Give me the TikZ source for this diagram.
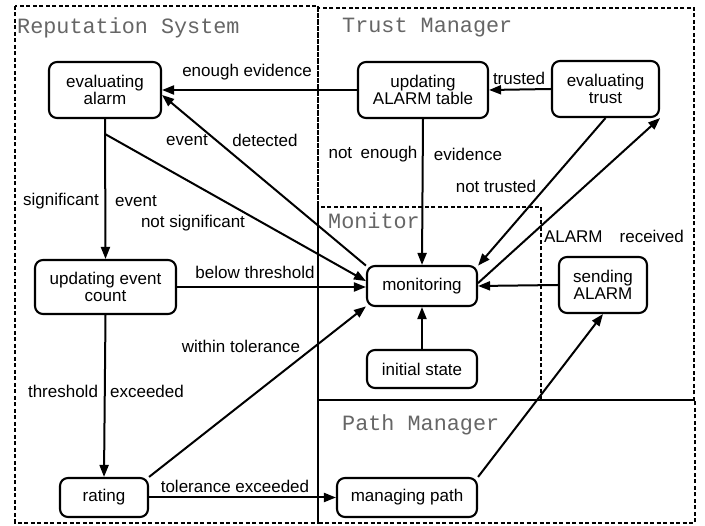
\documentclass[tikz,border=0pt]{standalone}
\usepackage{fontspec}
\setmainfont{Liberation Sans}
\newfontfamily\regionfont{Liberation Mono}
\usetikzlibrary{arrows.meta}
\begin{document}
\begin{tikzpicture}[x=1pt,y=-1pt,
  state/.style={draw, line width=2.1pt, rounded corners=8pt, align=center, inner sep=0pt,
    font=\fontsize{17}{17}\selectfont},
  conn/.style={line width=2pt, -{Triangle[length=12pt,width=9pt]}},
  lbl/.style={font=\fontsize{17}{17}\selectfont, inner sep=0pt},
  region/.style={line width=2.8pt, dash pattern=on 4pt off 2.5pt},
  rtitle/.style={font=\regionfont\fontsize{21.8}{22}\selectfont, text=black!60, inner sep=0pt, anchor=west}]
\useasboundingbox (0,0) rectangle (705,526);
\fill[white] (0,0) rectangle (705,526);
% regions
\draw[region] (15,6) rectangle (318,523);
\draw[region] (318,8) rectangle (694,400);
\draw[region] (318,207) rectangle (541,400);
\draw[region] (318,400) rectangle (695,523);
\node[rtitle] (trep) at (17,28) {Reputation System};
\node[rtitle] (ttrust) at (342,28) {Trust Manager};
\node[rtitle] (tmon) at (328,221) {Monitor};
\node[rtitle] (tpath) at (342,425) {Path Manager};
% states
\node[state, minimum width=112pt, minimum height=56pt] (ealarm) at (105,90) {evaluating\\alarm};
\node[state, minimum width=130pt, minimum height=56pt] (uat) at (423,90) {updating\\ALARM table};
\node[state, minimum width=107pt, minimum height=56pt] (etrust) at (605.5,89) {evaluating\\trust};
\node[state, minimum width=141pt, minimum height=54pt] (uec) at (105.5,287) {updating event\\count};
\node[state, minimum width=110pt, minimum height=40pt] (mon) at (422,286) {monitoring};
\node[state, minimum width=88pt, minimum height=56pt] (send) at (603,285) {sending\\ALARM};
\node[state, minimum width=110pt, minimum height=38pt] (init) at (422,369) {initial state};
\node[state, minimum width=88pt, minimum height=39pt] (rating) at (104,497.5) {rating};
\node[state, minimum width=140pt, minimum height=39pt] (mpath) at (407,497.5) {managing path};
\coordinate (sig) at (105,134);
% connectors
\draw[conn] (uat.west) -- (ealarm.east);
\node[lbl] (l1) at (247,72) {enough evidence};
\draw[conn] (etrust.west) -- (uat.east);
\node[lbl] (l2) at (519,78) {trusted};
\draw[conn] (uat.south) -- (mon.north);
\node[lbl] (l3a) at (373,154) {not\enspace enough};
\node[lbl] (l3b) at (468,154) {evidence};
\draw[conn] (etrust.south) -- (mon.20);
\node[lbl] (l4) at (496,186) {not trusted};
\draw[conn] (mon.3) -- (etrust.south east);
\node[lbl] (l5) at (614,236) {ALARM\enspace\enspace received};
\draw[conn] (mon.160) -- (ealarm.-5);
\node[lbl] (l6a) at (187,140) {event};
\node[lbl] (l6b) at (265,140) {detected};
\draw[conn] (sig) -- (mon.175);
\node[lbl] (l7) at (193,223) {not significant};
\draw[conn] (ealarm.south) -- (uec.north);
\node[lbl] (l8a) at (61,201) {significant};
\node[lbl] (l8b) at (136,201) {event};
\draw[conn] (uec.east) -- (uec.east -| mon.west);
\node[lbl] (l9) at (255,272) {below threshold};
\draw[conn] (uec.south) -- (rating.north);
\node[lbl] (l10a) at (63,391) {threshold};
\node[lbl] (l10b) at (147,391) {exceeded};
\draw[conn] (rating.north east) -- (mon.200);
\node[lbl] (l11) at (241,346) {within tolerance};
\draw[conn] (rating.east) -- (mpath.west);
\node[lbl] (l12) at (235,486) {tolerance exceeded};
\draw[conn] (mpath.north east) -- (send.south);
\draw[conn] (send.west) -- (mon.east);
\draw[conn] (init.north) -- (mon.south);
\end{tikzpicture}
\end{document}
